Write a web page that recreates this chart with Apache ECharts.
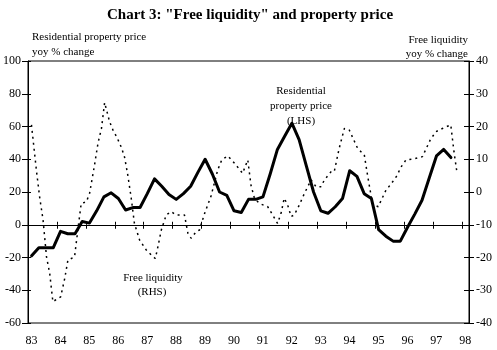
<!DOCTYPE html>
<html>
<head>
<meta charset="utf-8">
<script src="https://cdn.jsdelivr.net/npm/echarts@6/dist/echarts.min.js"></script>
<style>
  html, body { margin: 0; padding: 0; background: #fff; }
  #chart { width: 497px; height: 350px; }
</style>
</head>
<body>
<div id="chart"></div>
<script>
// residential property price, yoy %, quarterly from 83Q1 (LHS)
var propStart = 83.125;
var propValues = [-19, -14, -14, -14, -4, -5.5, -5.5, 2, 1, 8.5, 17, 19.5, 16, 9, 10.5, 10.5,
  19, 28, 23.5, 18.5, 15.5, 19, 23.5, 32, 40, 31, 20, 18, 8.5, 7.5, 15.5, 15.5,
  17, 31, 46, 54, 62, 52, 36, 20, 8.5, 7, 11, 16, 33, 29.5, 19, 16,
  -3, -7, -10, -10, -1.5, 6.5, 15, 28.5, 42, 46, 41];

// free liquidity, yoy % (RHS)
var liqYears = [83.12, 83.29, 83.40, 83.52, 83.64, 83.75, 83.86, 83.92, 84.13, 84.27, 84.38, 84.61,
  84.73, 84.84, 85.02, 85.13, 85.30, 85.42, 85.54, 85.65, 85.82, 85.94, 86.09, 86.23, 86.34,
  86.45, 86.57, 86.68, 86.86, 87.09, 87.26, 87.40, 87.47, 87.61, 87.78, 87.95, 88.12, 88.41,
  88.53, 88.64, 88.82, 88.93, 89.10, 89.33, 89.56, 89.70, 89.91, 90.14, 90.42, 90.60, 90.71,
  90.83, 91.00, 91.29, 91.46, 91.63, 91.75, 91.86, 91.98, 92.10, 92.21, 92.38, 92.56, 92.79,
  92.96, 93.13, 93.25, 93.48, 93.59, 93.76, 93.94, 94.11, 94.40, 94.63, 94.74, 94.91, 95.11,
  95.38, 95.55, 95.76, 95.89, 96.07, 96.35, 96.64, 96.91, 97.10, 97.33, 97.62, 97.73, 97.83];
var liqValues = [20.5, 6.7, -1.4, -8.5, -19.8, -24.8, -33.5, -34, -32, -26.4, -20.8, -19.8,
  -11.1, -3.5, -3, -0.4, 8.2, 14.9, 19.4, 27.3, 21.5, 18.9, 16.4, 13.6, 10.6,
  5.2, -1.9, -9.6, -14.7, -17.7, -19.2, -20.3, -17.7, -11.6, -7, -6, -7, -7,
  -12.6, -14.1, -12.1, -11.6, -6.7, -1.2, 6.7, 9.8, 11, 8.8, 5.7, 9.8, 2.1,
  -1.9, -3.5, -4.5, -7, -9.6, -6.5, -1.9, -4, -7.5, -7, -4, -0.4, 3.7,
  1.6, 1.6, 3.7, 6.2, 6.2, 13.3, 19.4, 18.9, 13.3, 11.3, 5.2, -3.5, -4.5,
  0.6, 2.4, 5, 7.5, 9.8, 10.1, 10.8, 15.9, 18.4, 19.4, 20.5, 12.3, 6.2];

var xMin = 83, xMax = 98.25;
var leftMin = -60, leftMax = 100, leftStep = 20;
var rightMin = -40, rightMax = 40, rightStep = 10;

var FONT = '"Liberation Serif", "DejaVu Serif", serif';

var propData = propValues.map(function (v, i) {
  return [propStart + i * 0.25, v];
});
var liqData = liqValues.map(function (v, i) {
  return [liqYears[i], v];
});

function txt(x, y, text, align, size, bold) {
  return {
    type: 'text', x: x, y: y, silent: true,
    style: {
      text: text, fill: '#000', align: align, verticalAlign: 'middle',
      textAlign: align, textVerticalAlign: 'middle',
      font: (bold ? 'bold ' : '') + size + 'px ' + FONT
    }
  };
}

function yAx(pos, min, max, step, withLabels, inside, len) {
  return {
    type: 'value', position: pos, min: min, max: max, interval: step,
    splitLine: { show: false },
    axisLine: { show: withLabels, onZero: false, lineStyle: { color: '#000', width: 1 } },
    axisTick: { show: true, inside: inside, length: len, lineStyle: { color: '#000' } },
    axisLabel: {
      show: withLabels, color: '#000', fontFamily: FONT, fontSize: 12, margin: 7
    }
  };
}

var myChart = echarts.init(document.getElementById('chart'));
myChart.setOption({
  animation: false,
  backgroundColor: '#fff',
  grid: {
    left: 28, right: 28, top: 61, bottom: 27,
    show: true, borderColor: '#000', borderWidth: 1
  },
  xAxis: [
    {
      type: 'value', min: xMin, max: xMax, interval: 1,
      axisLine: { show: false, onZero: false },
      axisTick: { show: false },
      splitLine: { show: false },
      axisLabel: {
        color: '#000', fontFamily: FONT, fontSize: 12, margin: 12, padding: [0, 0, 0, 7],
        formatter: function (v) { return Number.isInteger(v) ? String(v) : ''; }
      }
    },
    {
      type: 'value', min: xMin, max: xMax, interval: 1, position: 'bottom',
      axisLine: { show: true, onZero: true, onZeroAxisIndex: 0, lineStyle: { color: '#000', width: 1 } },
      axisTick: { show: true, length: 4, lineStyle: { color: '#000' } },
      axisLabel: { show: false },
      splitLine: { show: false }
    },
    {
      type: 'value', min: xMin, max: xMax, interval: 1, position: 'top',
      axisLine: { show: false, onZero: true, onZeroAxisIndex: 0 },
      axisTick: { show: true, length: 3, lineStyle: { color: '#000' } },
      axisLabel: { show: false },
      splitLine: { show: false }
    }
  ],
  yAxis: [
    yAx('left', leftMin, leftMax, leftStep, true, false, 6),
    yAx('right', rightMin, rightMax, rightStep, true, false, 5),
    yAx('left', leftMin, leftMax, leftStep, false, true, 3),
    yAx('right', rightMin, rightMax, rightStep, false, true, 5)
  ],
  series: [
    {
      name: 'Free liquidity', type: 'line', xAxisIndex: 0, yAxisIndex: 1,
      showSymbol: false, symbol: 'none',
      lineStyle: { color: '#000', width: 1.5, type: [2, 4] },
      data: liqData
    },
    {
      name: 'Residential property price', type: 'line', xAxisIndex: 0, yAxisIndex: 0,
      showSymbol: false, symbol: 'none',
      lineStyle: { color: '#000', width: 3, join: 'round', cap: 'round' },
      data: propData
    }
  ],
  graphic: [
    txt(250, 15, 'Chart 3: "Free liquidity" and property price', 'center', 15, true),
    txt(32, 37, 'Residential property price', 'left', 11),
    txt(32, 52, 'yoy % change', 'left', 11),
    txt(468, 40, 'Free liquidity', 'right', 11),
    txt(468, 54, 'yoy % change', 'right', 11),
    txt(301, 91, 'Residential', 'center', 11),
    txt(301, 106, 'property price', 'center', 11),
    txt(301, 121, '(LHS)', 'center', 11),
    txt(153, 278, 'Free liquidity', 'center', 11),
    txt(152, 292, '(RHS)', 'center', 11)
  ]
});
</script>
</body>
</html>
